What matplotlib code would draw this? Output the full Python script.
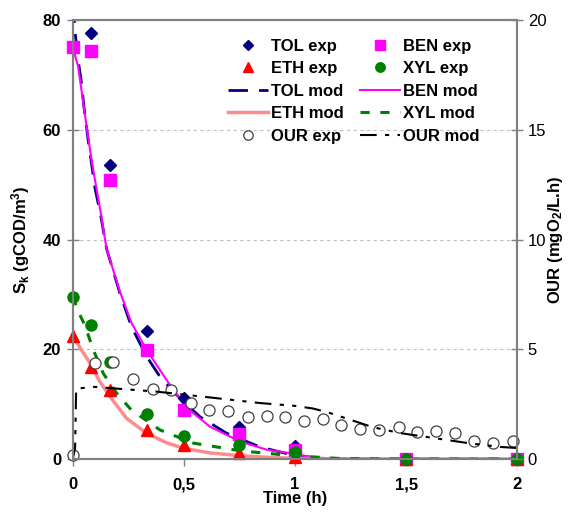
import matplotlib
matplotlib.use("Agg")
import matplotlib.pyplot as plt

plt.rcParams['font.family'] = ['Liberation Sans', 'DejaVu Sans']
plt.rcParams['mathtext.default'] = 'regular'

# --- experimental data (left axis, gCOD/m3) ---
t_exp = [0, 0.083, 0.167, 0.333, 0.5, 0.75, 1.0, 1.5, 2.0]
tol_exp = [90, 77.7, 53.6, 23.4, 11.1, 5.8, 2.4, 0, 0]
ben_exp = [75, 74.4, 50.9, 19.9, 9.0, 4.6, 1.6, 0, 0]
eth_exp = [22.4, 16.8, 12.6, 5.3, 2.6, 1.1, 0.3, 0, 0]
xyl_exp = [29.6, 24.4, 17.7, 8.2, 4.2, 2.6, 1.3, 0, 0]

# --- OUR experimental (right axis, mgO2/L.h) ---
t_our = [0, 0.102, 0.181, 0.271, 0.359, 0.444, 0.532, 0.613, 0.698, 0.787,
         0.872, 0.956, 1.042, 1.124, 1.207, 1.293, 1.378, 1.467, 1.551,
         1.636, 1.722, 1.805, 1.893, 1.979]
our_exp = [0.2, 4.36, 4.41, 3.66, 3.20, 3.14, 2.56, 2.22, 2.19, 1.93,
           1.97, 1.93, 1.72, 1.81, 1.56, 1.37, 1.32, 1.46, 1.23,
           1.28, 1.17, 0.83, 0.72, 0.81]

# --- model curves ---
t_tol_mod = [0, 0.009, 0.024, 0.039, 0.05, 0.069, 0.084, 0.099, 0.125, 0.152,
             0.212, 0.264, 0.332, 0.392, 0.459, 0.572, 0.692, 0.842, 0.99,
             1.1, 1.25, 1.5, 2.0]
tol_mod = [83, 78.2, 72.7, 68.5, 64.2, 58.1, 53.9, 49.5, 44.5, 38.3,
           30.2, 24.1, 18.7, 15.0, 12.0, 7.7, 4.7, 2.2, 0.7,
           0.2, 0, 0, 0]

t_ben_mod = [0, 0.024, 0.05, 0.084, 0.125, 0.152, 0.212, 0.264, 0.332, 0.422,
             0.505, 0.617, 0.752, 0.872, 0.99, 1.08, 1.2, 1.5, 2.0]
ben_mod = [75, 71.5, 64.0, 54.5, 45.0, 38.3, 30.5, 24.8, 19.9, 14.4,
           9.6, 5.9, 3.2, 1.7, 1.0, 0.3, 0.05, 0, 0]

t_eth_mod = [0, 0.04, 0.077, 0.12, 0.167, 0.242, 0.332, 0.42, 0.497, 0.62,
             0.752, 0.9, 1.1, 1.5, 2.0]
eth_mod = [22.4, 19.8, 17.5, 14.2, 11.4, 7.4, 4.7, 3.0, 1.95, 1.1,
           0.6, 0.25, 0.05, 0, 0]

t_xyl_mod = [0, 0.024, 0.054, 0.092, 0.137, 0.197, 0.264, 0.392, 0.542, 0.752,
             0.99, 1.2, 1.5, 2.0]
xyl_mod = [29.6, 26.9, 24.4, 19.9, 15.6, 12.0, 8.9, 5.3, 2.9, 1.5,
           0.6, 0.1, 0, 0]

t_our_mod = [0, 0.01, 0.015, 0.09, 0.377, 0.586, 0.842, 1.0, 1.081, 1.15,
             1.26, 1.35, 1.473, 1.622, 1.775, 1.923, 2.0]
our_mod = [0, 0.5, 3.2, 3.29, 3.07, 2.84, 2.55, 2.42, 2.30, 2.12,
           1.75, 1.45, 1.18, 0.96, 0.73, 0.55, 0.5]

x_ticks = [0, 0.5, 1, 1.5, 2]
x_ticklabels = ['0', '0,5', '1', '1,5', '2']
y_ticks = [0, 20, 40, 60, 80]
y2_ticks = [0, 5, 10, 15, 20]

fig = plt.figure(figsize=(5.69, 5.14), dpi=100)
ax = fig.add_axes([0.128, 0.107, 0.781, 0.854])
ax2 = ax.twinx()

grey = '#808080'

# model lines
l_tol, = ax.plot(t_tol_mod, tol_mod, color='#000080', lw=2, dashes=(7, 4))
l_ben, = ax.plot(t_ben_mod, ben_mod, color='#ff00ff', lw=1.5)
l_eth, = ax.plot(t_eth_mod, eth_mod, color='#ff8080', lw=2.5, alpha=0.9)
l_xyl, = ax.plot(t_xyl_mod, xyl_mod, color='#008000', lw=2.2, dashes=(3, 3.5))

# experimental markers
m_tol, = ax.plot(t_exp, tol_exp, ls='none', marker='D', ms=6.5, color='#000080', zorder=5)
m_ben, = ax.plot(t_exp, ben_exp, ls='none', marker='s', ms=8, color='#ff00ff', clip_on=False, zorder=5)
m_eth, = ax.plot(t_exp, eth_exp, ls='none', marker='^', ms=9, color='#ff0000', clip_on=False, zorder=6)
m_xyl, = ax.plot(t_exp, xyl_exp, ls='none', marker='o', ms=8, color='#008000', clip_on=False, zorder=7)

# OUR on right axis
m_our, = ax2.plot(t_our, our_exp, ls='none', marker='o', ms=8, mfc='white', mec='#404040',
                  mew=0.9, clip_on=False)
l_our, = ax2.plot(t_our_mod, our_mod, color='black', lw=1.5, dashes=(8, 4, 2, 4, 2, 4))

ax.set_xlim(0, 2)
ax.set_ylim(0, 80)
ax2.set_ylim(0, 20)

ax.set_xticks(x_ticks)
ax.set_xticklabels(x_ticklabels, fontsize=12, fontweight='bold')
ax.set_yticks(y_ticks)
ax.set_yticklabels([str(v) for v in y_ticks], fontsize=12, fontweight='bold')
ax2.set_yticks(y2_ticks)
ax2.set_yticklabels([str(v) for v in y2_ticks], fontsize=12)

ax.grid(axis='y', color='#c0c0c0', ls=(0, (3, 3)), lw=0.8)
ax.set_axisbelow(True)

for a in (ax, ax2):
    for s in a.spines.values():
        s.set_color(grey)
        s.set_linewidth(1.5)
ax.tick_params(axis='y', direction='inout', length=9, color=grey, width=1, pad=4)
ax.tick_params(axis='x', direction='out', length=5, color=grey, width=1, pad=8)
ax2.tick_params(axis='y', direction='inout', length=9, color=grey, width=1, pad=3)

ax.set_xlabel('Time (h)', fontsize=12, fontweight='bold', labelpad=-1)
ax.set_ylabel('S$_k$ (gCOD/m$^3$)', fontsize=12, fontweight='bold', labelpad=8)
ax2.set_ylabel('OUR (mgO$_2$/L.h)', fontsize=12, fontweight='bold', labelpad=0)

handles = [m_tol, m_eth, l_tol, l_eth, m_our, m_ben, m_xyl, l_ben, l_xyl, l_our]
labels = ['TOL exp', 'ETH exp', 'TOL mod', 'ETH mod', 'OUR exp',
          'BEN exp', 'XYL exp', 'BEN mod', 'XYL mod', 'OUR mod']
leg = ax2.legend(handles, labels, ncol=2, frameon=False, loc='upper left',
                 bbox_to_anchor=(0.40, 0.925), bbox_transform=fig.transFigure,
                 prop={'weight': 'bold', 'size': 12}, handlelength=2.4,
                 handletextpad=0.2, columnspacing=0.95, labelspacing=0.45,
                 borderpad=0, borderaxespad=0, markerscale=0.85)

fig.savefig('out.png', dpi=100)
